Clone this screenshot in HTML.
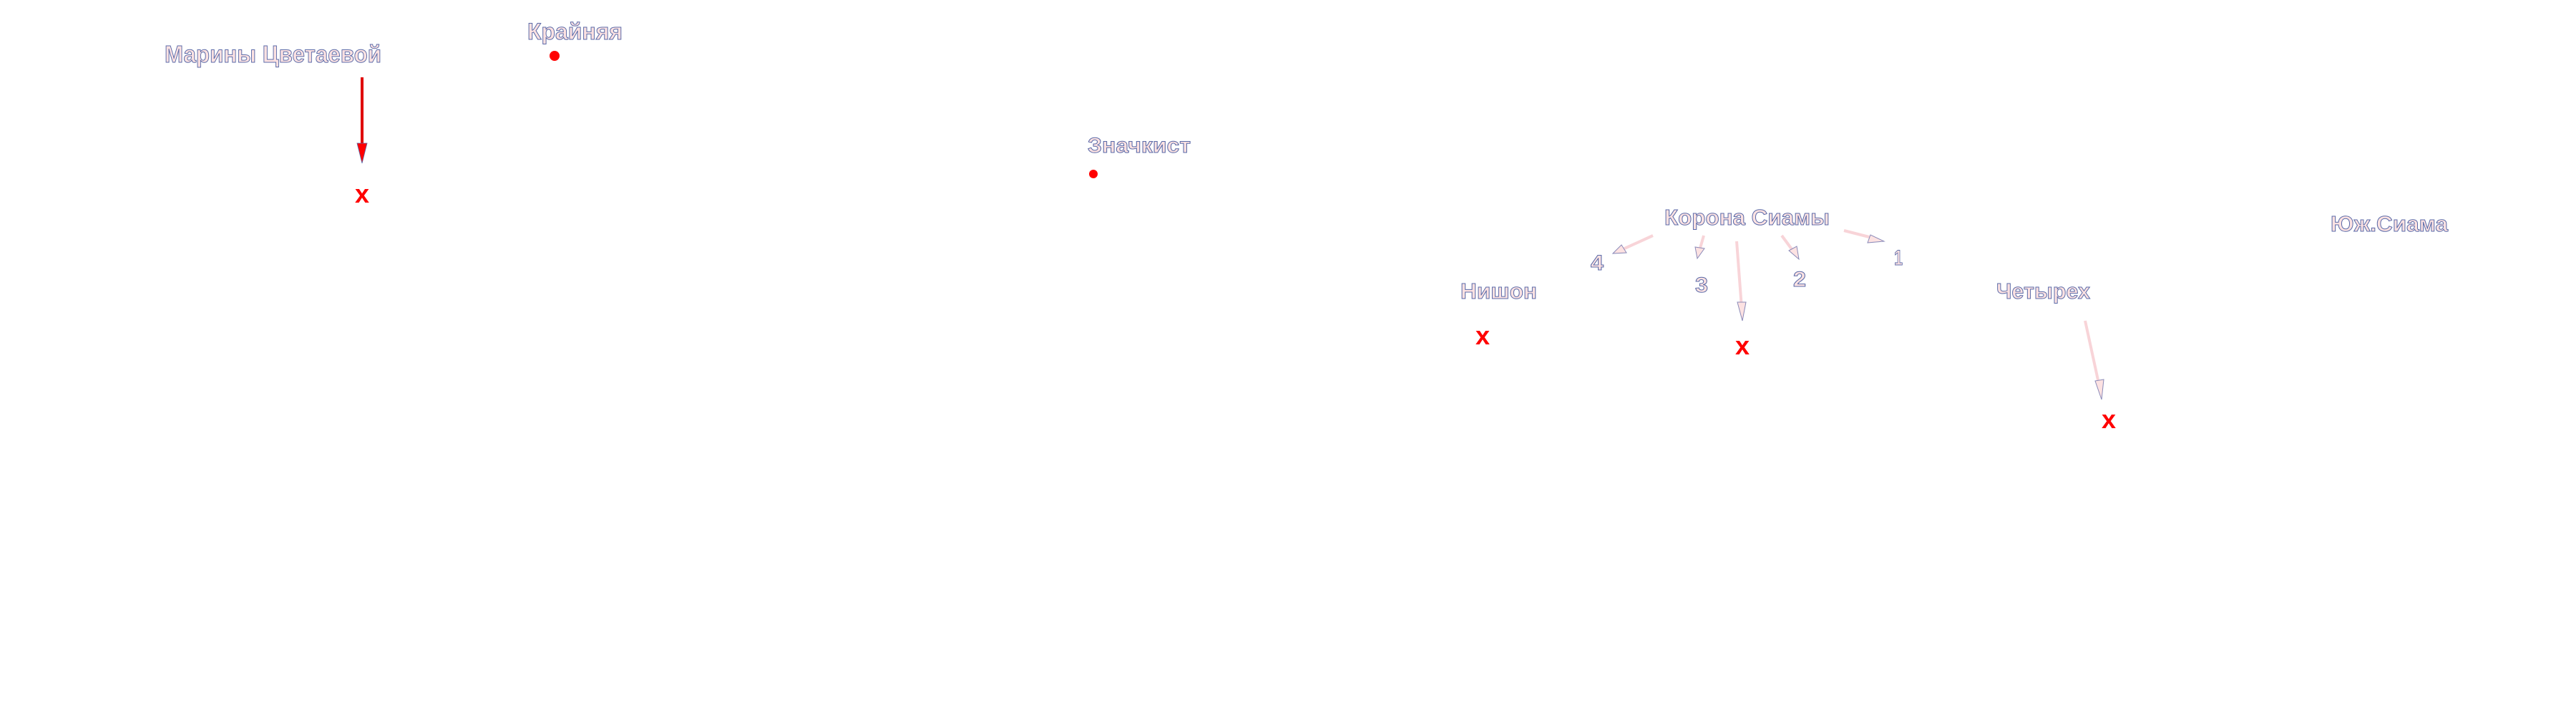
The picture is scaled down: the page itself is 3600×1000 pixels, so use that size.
<!DOCTYPE html>
<html><head><meta charset="utf-8"><style>html,body{margin:0;padding:0;background:#fff}svg{display:block}</style></head>
<body>
<svg width="3600" height="1000" viewBox="0 0 3600 1000" xmlns="http://www.w3.org/2000/svg">
<g font-family="'Liberation Sans', sans-serif" font-weight="bold" fill="#fde2e2" stroke="#5a6aa8" stroke-width="1">
<text x="230" y="87" font-size="33" textLength="303" lengthAdjust="spacingAndGlyphs">Марины Цветаевой</text>
<text x="737" y="55" font-size="32" textLength="133" lengthAdjust="spacingAndGlyphs">Крайняя</text>
<text x="1520" y="213" font-size="30" textLength="144" lengthAdjust="spacingAndGlyphs">Значкист</text>
<text x="2326" y="314" font-size="31" textLength="231" lengthAdjust="spacingAndGlyphs">Корона Сиамы</text>
<text x="2041" y="417" font-size="31" textLength="107" lengthAdjust="spacingAndGlyphs">Нишон</text>
<text x="2790" y="417" font-size="31" textLength="131" lengthAdjust="spacingAndGlyphs">Четырех</text>
<text x="3257" y="323" font-size="31" textLength="164" lengthAdjust="spacingAndGlyphs">Юж.Сиама</text>
<text x="2223" y="377" font-size="30" textLength="18" lengthAdjust="spacingAndGlyphs">4</text>
<text x="2369" y="408" font-size="30" textLength="18" lengthAdjust="spacingAndGlyphs">3</text>
<text x="2506" y="400" font-size="30" textLength="18" lengthAdjust="spacingAndGlyphs">2</text>
<text x="2647" y="370" font-size="30" textLength="12" lengthAdjust="spacingAndGlyphs">1</text>
</g>
<g fill="#ff0000">
<circle cx="775" cy="78" r="7"/>
<circle cx="1528" cy="243" r="6"/>
</g>
<line x1="506" y1="108" x2="506" y2="205" stroke="#e00000" stroke-width="4"/>
<polygon points="499,200 513,200 506,228" fill="#ff0000" stroke="#5a6aa8" stroke-width="0.8"/>
<g fill="#fde2e2" stroke="#8a8ab8" stroke-width="1">
<line x1="2310" y1="329" x2="2266" y2="349" stroke="#f8d4d8" stroke-width="4"/>
<polygon points="2254,354 2266,342 2273,353"/>
<line x1="2381" y1="329" x2="2375" y2="350" stroke="#f8d4d8" stroke-width="4"/>
<polygon points="2372,361 2369,345 2382,347"/>
<line x1="2427" y1="337" x2="2434" y2="430" stroke="#f8d4d8" stroke-width="4"/>
<polygon points="2435,448 2428,422 2440,422"/>
<line x1="2490" y1="329" x2="2507" y2="352" stroke="#f8d4d8" stroke-width="4"/>
<polygon points="2514,362 2500,350 2511,344"/>
<line x1="2577" y1="322" x2="2620" y2="333" stroke="#f8d4d8" stroke-width="4"/>
<polygon points="2633,337 2610,339 2614,328"/>
<line x1="2914" y1="448" x2="2934" y2="540" stroke="#f8d4d8" stroke-width="4"/>
<polygon points="2937,558 2928,532 2940,530"/>
</g>
<g font-family="'Liberation Sans', sans-serif" font-weight="bold" fill="#ff0000" font-size="36" text-anchor="middle">
<text x="506" y="283">x</text>
<text x="2072" y="481">x</text>
<text x="2435" y="495">x</text>
<text x="2947" y="598">x</text>
</g>
</svg>
</body></html>
